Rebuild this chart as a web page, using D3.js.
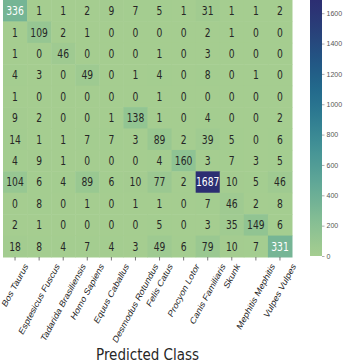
<!DOCTYPE html>
<html>
<head>
<meta charset="utf-8">
<script src="https://cdn.jsdelivr.net/npm/d3@7"></script>
<style>
  html, body { margin: 0; padding: 0; background: #fff; }
  svg { display: block; font-family: "DejaVu Sans", sans-serif; }
</style>
</head>
<body>
<svg id="chart" width="345" height="362"></svg>
<script>
// Class names (predicted = columns, true = rows)
const classes = [
  "Bos Taurus", "Esptesicus Fuscus", "Tadarida Brasiliensis", "Homo Sapiens",
  "Equus Caballus", "Desmodus Rotundus", "Felis Catus", "Procyon Lotor",
  "Canis Familiaris", "Skunk", "Mephitis Mephitis", "Vulpes Vulpes"
];

// Confusion counts, one array per true class
const row0  = [336, 1, 1, 2, 9, 7, 5, 1, 31, 1, 1, 2];
const row1  = [1, 109, 2, 1, 0, 0, 0, 0, 2, 1, 0, 0];
const row2  = [1, 0, 46, 0, 0, 0, 1, 0, 3, 0, 0, 0];
const row3  = [4, 3, 0, 49, 0, 1, 4, 0, 8, 0, 1, 0];
const row4  = [1, 0, 0, 0, 0, 0, 1, 0, 0, 0, 0, 0];
const row5  = [9, 2, 0, 0, 1, 138, 1, 0, 4, 0, 0, 2];
const row6  = [14, 1, 1, 7, 7, 3, 89, 2, 39, 5, 0, 6];
const row7  = [4, 9, 1, 0, 0, 0, 4, 160, 3, 7, 3, 5];
const row8  = [104, 6, 4, 89, 6, 10, 77, 2, 1687, 10, 5, 46];
const row9  = [0, 8, 0, 1, 0, 1, 1, 0, 7, 46, 2, 8];
const row10 = [2, 1, 0, 0, 0, 0, 5, 0, 3, 35, 149, 6];
const row11 = [18, 8, 4, 7, 4, 3, 49, 6, 79, 10, 7, 331];
const matrix = [row0, row1, row2, row3, row4, row5, row6, row7, row8, row9, row10, row11];

// Colorbar ticks
const cbarTicks = [0, 200, 400, 600, 800, 1000, 1200, 1400, 1600];

const svg = d3.select("#chart");

const hm = { left: 3, right: 292, top: 0, bottom: 257 };
const x = d3.scaleBand().domain(d3.range(classes.length)).range([hm.left, hm.right]);
const y = d3.scaleBand().domain(d3.range(classes.length)).range([hm.top, hm.bottom]);

const vmax = d3.max(matrix.flat());
// green-to-navy sequential ramp
const ramp = ["#a5cd90", "#8cc293", "#6fb196", "#55a097", "#3f8f95", "#2c7a91",
              "#20678b", "#235383", "#293e78", "#2c2e72"];
const color = d3.scaleSequential(d3.interpolateRgbBasis(ramp)).domain([0, vmax]);

const cells = [];
matrix.forEach((r, i) => r.forEach((v, j) => cells.push({ i, j, v })));

svg.append("g").selectAll("rect").data(cells).join("rect")
  .attr("x", d => x(d.j))
  .attr("y", d => y(d.i))
  .attr("width", x.bandwidth() + 0.5)
  .attr("height", y.bandwidth() + 0.5)
  .attr("fill", d => color(d.v));

svg.append("g").selectAll("text").data(cells).join("text")
  .attr("transform", d => `translate(${x(d.j) + x.bandwidth() / 2},${y(d.i) + y.bandwidth() / 2}) scale(0.8,1)`)
  .attr("text-anchor", "middle")
  .attr("dominant-baseline", "central")
  .attr("font-size", 11.5)
  .attr("fill", d => d.v > 250 ? "#ffffff" : "#262626")
  .text(d => d.v);

// x axis: class names rotated, each centred under its tick
const angle = 56;
const rad = angle * Math.PI / 180;
const labelSize = 10;
const xAxis = svg.append("g")
  .attr("transform", `translate(0,${hm.bottom})`)
  .call(d3.axisBottom(x).tickSize(3.5).tickFormat(i => classes[i]));
xAxis.select(".domain").remove();
xAxis.selectAll(".tick line").attr("stroke", "#555").attr("stroke-width", 0.8);
xAxis.selectAll(".tick text")
  .attr("font-size", labelSize)
  .attr("fill", "#262626")
  .attr("text-anchor", "middle")
  .attr("dominant-baseline", "central")
  .attr("dy", null)
  .attr("y", 0)
  .attr("transform", function () {
    const L = this.getComputedTextLength();
    const h = labelSize * 0.9;
    const H = L * Math.sin(rad) + h * Math.cos(rad);
    return `translate(0,${5 + H / 2}) scale(0.8,1) rotate(${-angle})`;
  });

svg.append("text")
  .attr("transform", `translate(${(hm.left + hm.right) / 2},360) scale(0.9,1)`)
  .attr("text-anchor", "middle")
  .attr("font-size", 15)
  .attr("fill", "#262626")
  .text("Predicted Class");

// colorbar
const cb = { x: 310, w: 12, top: 0, bottom: 256 };
const cy = d3.scaleLinear().domain([0, vmax]).range([cb.bottom, cb.top]);
const grad = svg.append("defs").append("linearGradient")
  .attr("id", "cbar").attr("x1", 0).attr("y1", 1).attr("x2", 0).attr("y2", 0);
d3.range(0, 1.0001, 0.05).forEach(t => {
  grad.append("stop").attr("offset", t).attr("stop-color", color(t * vmax));
});
svg.append("rect")
  .attr("x", cb.x).attr("y", cb.top)
  .attr("width", cb.w).attr("height", cb.bottom - cb.top)
  .attr("fill", "url(#cbar)");

const cAxis = svg.append("g")
  .attr("transform", `translate(${cb.x + cb.w},0)`)
  .call(d3.axisRight(cy).tickValues(cbarTicks).tickSize(2.5).tickPadding(2).tickFormat(d3.format("d")));
cAxis.select(".domain").remove();
cAxis.selectAll(".tick line").attr("stroke", "#777").attr("stroke-width", 0.6);
cAxis.selectAll(".tick text").attr("font-size", 7).attr("fill", "#555");
</script>
</body>
</html>
